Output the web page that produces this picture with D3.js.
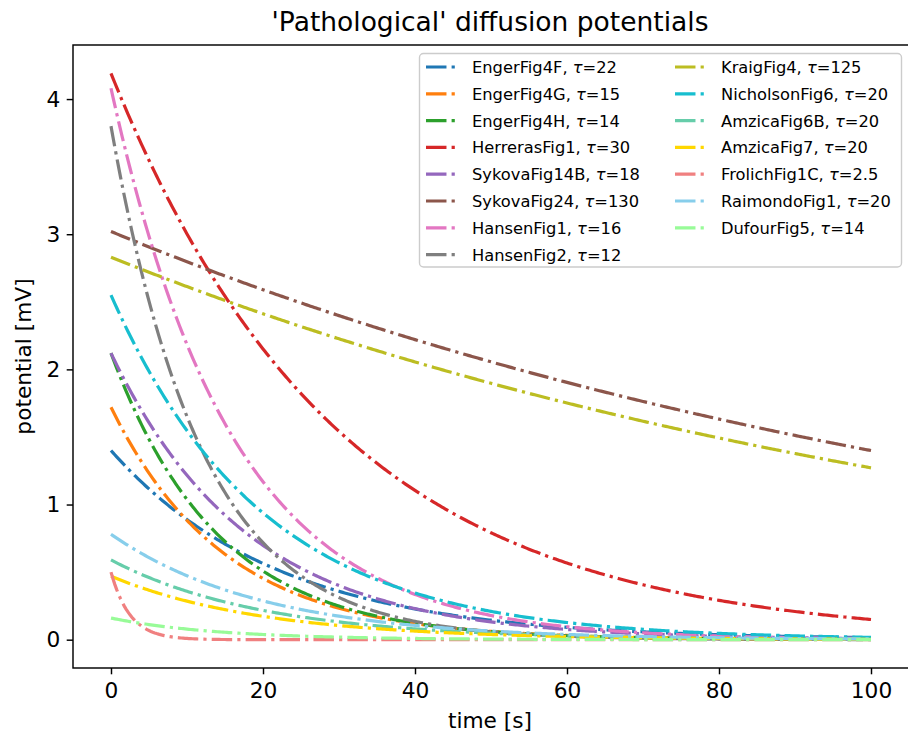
<!DOCTYPE html>
<html><head><meta charset="utf-8">
<script src="https://cdn.jsdelivr.net/npm/d3@7"></script>
<style>body{margin:0;background:#fff}svg{display:block;font-family:"DejaVu Sans",sans-serif}</style>
</head><body><svg id="c" width="908" height="742"></svg>
<script>
// Series: name, initial potential (mV, read from t=0), time constant tau (s, from legend)
const names = ["EngerFig4F","EngerFig4G","EngerFig4H","HerrerasFig1","SykovaFig14B","SykovaFig24","HansenFig1","HansenFig2","KraigFig4","NicholsonFig6","AmzicaFig6B","AmzicaFig7","FrolichFig1C","RaimondoFig1","DufourFig5"];
const tauLabels = ["22","15","14","30","18","130","16","12","125","20","20","20","2.5","20","14"];
const taus = [22,15,14,30,18,130,16,12,125,20,20,20,2.5,20,14];
const v0 = [1.40,1.72,2.12,4.19,2.12,3.02,4.08,3.80,2.83,2.55,0.59,0.47,0.50,0.78,0.16];
const colors = ["#1f77b4","#ff7f0e","#2ca02c","#d62728","#9467bd","#8c564b","#e377c2","#7f7f7f","#bcbd22","#17becf","#66cdaa","#ffd700","#f08080","#87ceeb","#98fb98"];
const xTicks = [0,20,40,60,80,100];
const yTicks = [0,1,2,3,4];
const tMax = 100;

const svg = d3.select("#c");
const L=73, R=909, T=45, B=668;
const x = d3.scaleLinear().domain([-5,105]).range([L,R]);
const y = d3.scaleLinear().domain([-0.2095,4.40]).range([B,T]);

const ts = d3.range(0, tMax+0.001, 0.25);
const line = d3.line().x(d=>x(d[0])).y(d=>y(d[1]));
const lw = 3.2;
const dash = [6.4*lw,1.6*lw,1*lw,1.6*lw].map(v=>v.toFixed(2)).join(",");

const g = svg.append("g");
names.forEach((n,i)=>{
  const pts = ts.map(t=>[t, v0[i]*Math.exp(-t/taus[i])]);
  g.append("path").attr("d",line(pts)).attr("fill","none")
   .attr("stroke",colors[i]).attr("stroke-width",lw).attr("stroke-dasharray",dash);
});

// frame
svg.append("rect").attr("x",L).attr("y",T).attr("width",R-L).attr("height",B-T)
  .attr("fill","none").attr("stroke","#000").attr("stroke-width",1.45);

const xa = svg.append("g").attr("transform",`translate(0,${B})`)
  .call(d3.axisBottom(x).tickValues(xTicks).tickSize(6.3).tickPadding(8).tickFormat(d3.format("d")));
const ya = svg.append("g").attr("transform",`translate(${L},0)`)
  .call(d3.axisLeft(y).tickValues(yTicks).tickSize(6.3).tickPadding(6.3).tickFormat(d3.format("d")));
[xa,ya].forEach(a=>{
  a.select(".domain").remove();
  a.selectAll("line").attr("stroke","#000").attr("stroke-width",1.45);
  a.selectAll("text").attr("font-family","DejaVu Sans").attr("font-size",21.7).attr("fill","#000");
});

svg.append("text").attr("x",(L+907)/2).attr("y",31).attr("text-anchor","middle")
  .attr("font-size",26.5).text("'Pathological' diffusion potentials");
svg.append("text").attr("x",(L+907)/2).attr("y",728).attr("text-anchor","middle")
  .attr("font-size",21.7).text("time [s]");
svg.append("text").attr("transform",`translate(31,${(T+B)/2}) rotate(-90)`).attr("text-anchor","middle")
  .attr("font-size",21.7).text("potential [mV]");

// legend
const lg = svg.append("g");
lg.append("rect").attr("x",419.5).attr("y",53.5).attr("width",482).attr("height",213.5).attr("rx",4)
  .attr("fill","#fff").attr("fill-opacity",0.8).attr("stroke","#cccccc").attr("stroke-width",1.4);
names.forEach((n,i)=>{
  const col = i<8?0:1, row = i<8?i:i-8;
  const hx = col===0?426:675, yy = 67+row*26.8;
  lg.append("line").attr("x1",hx).attr("x2",hx+32).attr("y1",yy).attr("y2",yy)
    .attr("stroke",colors[i]).attr("stroke-width",lw).attr("stroke-dasharray",dash);
  const t = lg.append("text").attr("x",hx+46).attr("y",yy+6).attr("font-size",16.3);
  t.append("tspan").text(n+", ");
  t.append("tspan").attr("font-style","italic").text("τ");
  t.append("tspan").text("="+tauLabels[i]);
});
</script></body></html>
